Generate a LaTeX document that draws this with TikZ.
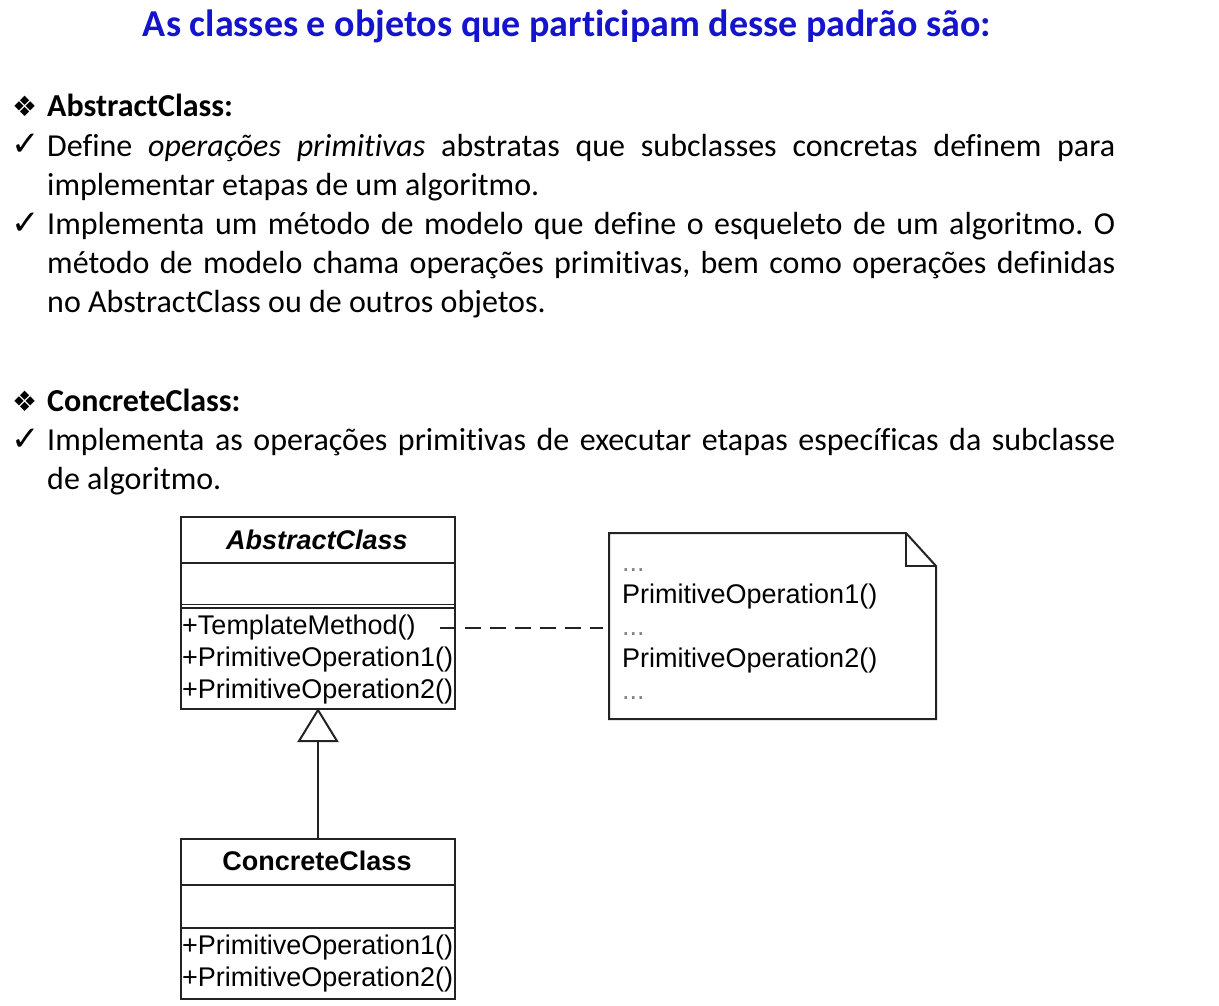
\documentclass[tikz,border=0pt]{standalone}
\usepackage{fontspec}
\setmainfont{Carlito}[Ligatures=CommonOff]
\newfontfamily\umlfont{Liberation Sans}
\newfontfamily\symfont{DejaVu Sans}
\usetikzlibrary{positioning}
\frenchspacing

\definecolor{titleblue}{RGB}{20,20,205}
\definecolor{umlgray}{RGB}{35,35,35}
\definecolor{dotgray}{RGB}{130,130,130}

\newcommand{\bodyfont}{\fontsize{32}{39}\selectfont\hyphenpenalty=10000\exhyphenpenalty=10000}
\newcommand{\umltext}{\umlfont\fontsize{27}{32}\selectfont}

\begin{document}
\begin{tikzpicture}[x=1pt, y=-1pt,
    heading/.style={anchor=base west, inner sep=0, font=\bodyfont\bfseries},
    bullet/.style={anchor=base west, inner sep=0, font=\symfont\fontsize{28}{30}\selectfont},
    check/.style={anchor=base west, inner sep=0, font=\symfont\fontsize{34}{30}\selectfont},
    item/.style={anchor=north west, inner sep=0, text width=1068pt, align=justify, font=\bodyfont},
    member/.style={anchor=base west, inner sep=0, font=\umltext},
    umlbox/.style={draw=umlgray, line width=2pt},
    dots/.style={anchor=base west, inner sep=0, font=\umltext, text=dotgray}]
    \useasboundingbox (0,0) rectangle (1219,1006);

	% title
	\node[font=\fontsize{38}{44}\selectfont\bfseries, text=titleblue] (title) at (567,26) {As classes e objetos que participam desse padrão são:};

	% AbstractClass
	\node[bullet] (b1) at (12,117) {❖};
	\node[heading] (hAbstract) at (47,117) {AbstractClass:};
	\node[check] (c1) at (11,156) {✓};
	\node[item] (t1) at (47,128.7) {\strut Define \textit{operações primitivas} abstratas que subclasses concretas definem para implementar etapas de um algoritmo.};
	\node[check] (c2) at (11,234) {✓};
	\node[item] (t2) at (47,206.7) {\strut Implementa um método de modelo que define o esqueleto de um algoritmo. O método de modelo chama operações primitivas, bem como operações definidas no AbstractClass ou de outros objetos.};

	% ConcreteClass
	\node[bullet] (b2) at (12,411) {❖};
	\node[heading] (hConcrete) at (47,411) {ConcreteClass:};
	\node[check] (c3) at (11,450) {✓};
	\node[item] (t3) at (47,422.7) {\strut Implementa as operações primitivas de executar etapas específicas da subclasse\linebreak de algoritmo.};

	% class AbstractClass
	\node[umlbox, rectangle, minimum width=274pt, minimum height=192pt, anchor=north west] (abstract) at (180,516) {};
	\draw[umlgray, line width=2pt] (180,563) -- (454,563);
	\draw[umlgray, line width=1.5pt] (180,604.5) -- (454,604.5);
	\draw[umlgray, line width=1.5pt] (180,608) -- (454,608);
	\node[font=\umltext\bfseries\itshape, inner sep=0, anchor=base] (absName) at (317,549) {AbstractClass};
	\node[member] (absOp1) at (182,634) {+TemplateMethod()};
	\node[member] (absOp2) at (182,666) {+PrimitiveOperation1()};
	\node[member] (absOp3) at (182,698) {+PrimitiveOperation2()};

	% class ConcreteClass
	\node[umlbox, rectangle, minimum width=274pt, minimum height=160pt, anchor=north west] (concrete) at (180,838) {};
	\draw[umlgray, line width=2pt] (180,885) -- (454,885);
	\draw[umlgray, line width=2pt] (180,928) -- (454,928);
	\node[font=\umltext\bfseries, inner sep=0, anchor=base] (conName) at (317,870) {ConcreteClass};
	\node[member] (conOp1) at (182,954) {+PrimitiveOperation1()};
	\node[member] (conOp2) at (182,986) {+PrimitiveOperation2()};

	% generalization
	\coordinate (tip) at (abstract.south);
	\draw[umlgray, line width=2pt, fill=white, line join=miter] (tip) -- ++(19,31) -- ++(-38,0) -- cycle;
	\draw[umlgray, line width=2pt] ([yshift=-31pt]tip) -- (concrete.north);

	% note
	\draw[umlgray, line width=2pt] (609,533) -- (906,533) -- (936,566) -- (936,719) -- (609,719) -- cycle;
	\draw[umlgray, line width=2pt] (906,533) -- (906,566) -- (936,566);
	\coordinate (note) at (609,628);
	\node[dots] (n1) at (622,571) {...};
	\node[member] (n2) at (622,603) {PrimitiveOperation1()};
	\node[dots] (n3) at (622,635) {...};
	\node[member] (n4) at (622,667) {PrimitiveOperation2()};
	\node[dots] (n5) at (622,699) {...};

	\coordinate (link) at (440,628);
	\draw[umlgray, line width=2pt, dash pattern=on 16pt off 9pt] (link) -- ([xshift=-6pt]note);
\end{tikzpicture}
\end{document}
